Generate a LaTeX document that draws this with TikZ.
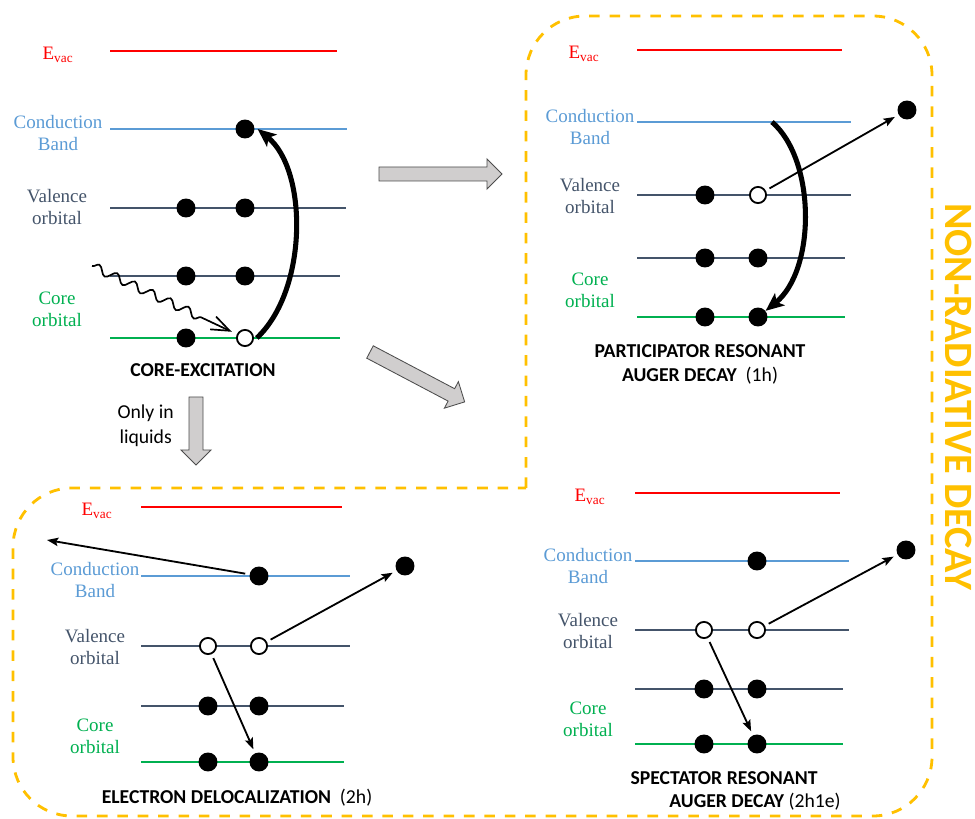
\documentclass[tikz,border=0pt]{standalone}
\usepackage{fontspec}
\setmainfont{Liberation Serif}
\newfontfamily\timesfont{Liberation Serif}
\newfontfamily\calibri{Carlito}
\usepackage{tikz}
\usetikzlibrary{arrows.meta,decorations.pathmorphing}
\definecolor{evac}{RGB}{255,0,0}
\definecolor{cband}{RGB}{91,155,213}
\definecolor{valence}{RGB}{68,84,106}
\definecolor{core}{RGB}{0,176,80}
\definecolor{decay}{RGB}{255,192,0}
\definecolor{blockgray}{RGB}{208,206,206}

\begin{document}
\begin{tikzpicture}[x=0.025cm,y=-0.025cm,
                    level/.style={line width=1.7pt},
                    lbl/.style={font=\timesfont\fontsize{13.5}{15.5}\selectfont,align=center,inner sep=0pt},
                    electron/.style={circle,fill=black,inner sep=0pt,minimum size=13.5pt},
                    hole/.style={circle,draw=black,fill=white,line width=1.3pt,inner sep=0pt,minimum size=11.5pt},
                    caption/.style={font=\calibri\bfseries\fontsize{14}{17}\selectfont,align=center,inner sep=0pt},
                    jump/.style={-{Stealth[length=8pt,width=6pt,inset=1.5pt]},line width=1.3pt,shorten <=3pt,shorten >=3pt},
                    bigjump/.style={-{Stealth[length=13pt,width=11pt,inset=3pt]},line width=3.6pt},
                    photon/.style={decorate,decoration={snake,amplitude=3pt,segment length=14pt,post length=22pt},
                                   line width=1.2pt,-{Straight Barb[length=13pt,width=10pt]},shorten >=4pt},
                    block/.style={draw=black!70,fill=blockgray,line width=0.6pt},
                    dashbox/.style={draw=decay,line width=2pt,dash pattern=on 7.5pt off 7pt}
                ]
    \useasboundingbox (0,0) rectangle (975,819);

    \draw[dashbox,rounded corners=42pt] (526,488) -- (526,16) -- (932,16) -- (932,816) -- (13,816) -- (13,488) -- (526,488);
    \node[font=\calibri\bfseries\fontsize{28.6}{30}\selectfont,text=decay,rotate=-90,inner sep=0pt] (nonrad) at (959,397) {NON-RADIATIVE DECAY};

    \foreach \px/\py/\ang/\len in {379/174/0/123, 196/397/-90/68, 370/352/-27.8/107}
        {
        \pgfmathsetmacro{\neck}{\len-15}
        \begin{scope}[shift={(\px,\py)},rotate=\ang]
            \draw[block] (0,-7) -- (\neck,-7) -- (\neck,-15) -- (\len,0) -- (\neck,15) -- (\neck,7) -- (0,7) -- cycle;
        \end{scope}
    }
    \node[font=\calibri\fontsize{14}{17.5}\selectfont,align=center,inner sep=0pt,anchor=east] (liquids) at (174,426) {Only in\\liquids};

    \foreach \y/\c/\e in {51/evac/337, 129/cband/347, 208/valence/346, 276/valence/340, 338/core/340}
        \draw[level,\c] (110,\y) -- (\e,\y);
    \node[lbl,text=evac] (ceevac) at (58,55) {E\textsubscript{vac}};
    \node[lbl,text=cband] (cecb) at (58,133) {Conduction\\Band};
    \node[lbl,text=valence] (ceval) at (57,207) {Valence\\orbital};
    \node[lbl,text=core] (cecore) at (57,309) {Core\\orbital};
    \foreach \n/\x/\y in {1/245/129, 2/186/208, 3/245/208, 4/186/276, 5/245/276, 6/186/338}
        \node[electron] (ce\n) at (\x,\y) { };
    \node[hole] (ce7) at (245,338) { };
    \coordinate (photonsrc) at (92,266);
    \draw[photon] (photonsrc) -- (ce7);
    \draw[bigjump] ([xshift=2pt]ce7.east) .. controls (308,290) and (308,170) .. ([xshift=2pt]ce1.east);
    \node[caption] (cecap) at (203,370) {CORE-EXCITATION};

    \foreach \y/\c/\e in {50/evac/842, 122/cband/851, 195/valence/851, 258/valence/845, 317/core/845}
        \draw[level,\c] (637,\y) -- (\e,\y);
    \node[lbl,text=evac] (paevac) at (584,54) {E\textsubscript{vac}};
    \node[lbl,text=cband] (pacb) at (590,127) {Conduction\\Band};
    \node[lbl,text=valence] (paval) at (590,196) {Valence\\orbital};
    \node[lbl,text=core] (pacore) at (590,290) {Core\\orbital};
    \foreach \n/\x/\y in {1/705/195, 3/705/258, 4/758/258, 5/705/317, 6/758/317, 7/907/110}
        \node[electron] (pa\n) at (\x,\y) { };
    \node[hole] (pa2) at (758,195) { };
    \coordinate (pastart) at (772,122);
    \draw[bigjump] (pastart) .. controls (816,160) and (816,270) .. (pa6);
    \draw[jump] (pa2) -- (pa7);
    \node[caption] (pacap) at (700,364) {PARTICIPATOR RESONANT\\AUGER DECAY~ {\mdseries (1h)}};

    \foreach \y/\c/\e in {507/evac/342, 576/cband/350, 646/valence/350, 706/valence/344, 762/core/344}
        \draw[level,\c] (141,\y) -- (\e,\y);
    \node[lbl,text=evac] (deevac) at (97,511) {E\textsubscript{vac}};
    \node[lbl,text=cband] (decb) at (95,580) {Conduction\\Band};
    \node[lbl,text=valence] (deval) at (95,647) {Valence\\orbital};
    \node[lbl,text=core] (decore) at (95,736) {Core\\orbital};
    \foreach \n/\x/\y in {1/259/576, 4/208/706, 5/259/706, 6/208/762, 7/259/762, 8/405/566}
        \node[electron] (de\n) at (\x,\y) { };
    \node[hole] (de2) at (208,646) { };
    \node[hole] (de3) at (259,646) { };
    \coordinate (deout) at (47,540);
    \draw[jump,shorten >=0pt] (de1) -- (deout);
    \draw[jump] (de3) -- (de8);
    \draw[jump] (de2) -- (de7);
    \node[caption] (decap) at (237,798) {ELECTRON DELOCALIZATION~ {\mdseries (2h)}};

    \foreach \y/\c/\e in {493/evac/840, 561/cband/849, 630/valence/849, 689/valence/843, 744/core/843}
        \draw[level,\c] (635,\y) -- (\e,\y);
    \node[lbl,text=evac] (spevac) at (590,497) {E\textsubscript{vac}};
    \node[lbl,text=cband] (spcb) at (588,566) {Conduction\\Band};
    \node[lbl,text=valence] (spval) at (588,631) {Valence\\orbital};
    \node[lbl,text=core] (spcore) at (588,719) {Core\\orbital};
    \foreach \n/\x/\y in {1/757/561, 4/704/689, 5/757/689, 6/704/744, 7/757/744, 8/906/550}
        \node[electron] (sp\n) at (\x,\y) { };
    \node[hole] (sp2) at (704,630) { };
    \node[hole] (sp3) at (757,630) { };
    \draw[jump] (sp3) -- (sp8);
    \draw[jump] (sp2) -- (sp7);
    \node[caption] (spcap) at (724,778) {SPECTATOR RESONANT};
    \node[caption] (spcap2) at (755,802) {AUGER DECAY {\mdseries (2h1e)}};

\end{tikzpicture}
\end{document}
